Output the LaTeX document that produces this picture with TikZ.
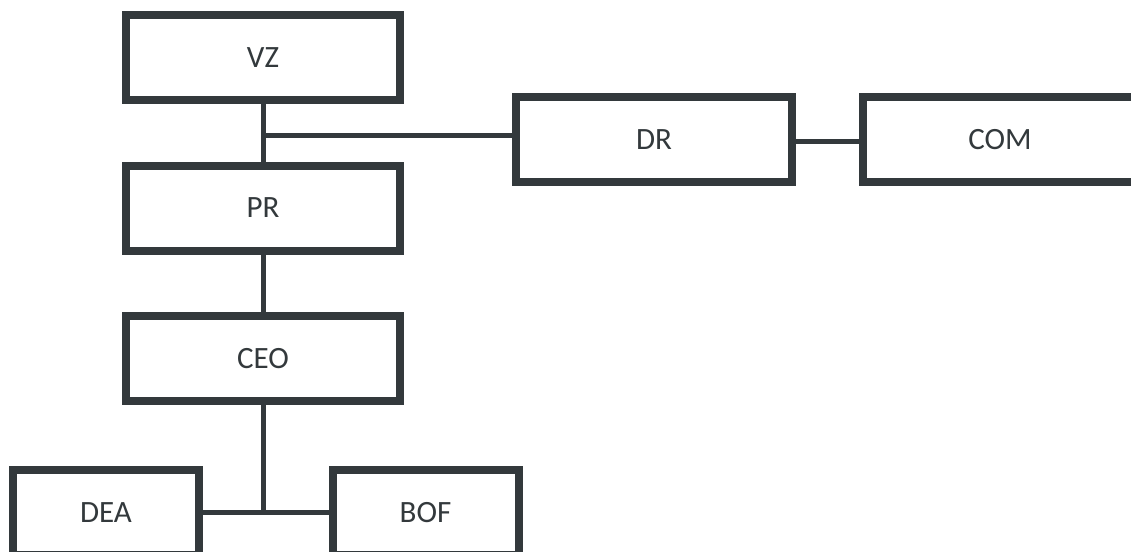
\documentclass[tikz,border=0pt]{standalone}
\usepackage{fontspec}
\setmainfont{Carlito}
\definecolor{ink}{HTML}{33393C}
\begin{document}
\begin{tikzpicture}[x=1pt,y=-1pt,
  orgbox/.style={draw=ink,line width=8pt,rectangle,fill=white,text=ink,
    minimum width=274pt,minimum height=85pt,inner sep=0pt,
    font=\fontsize{31}{36}\selectfont},
  smallbox/.style={orgbox,minimum width=186pt},
  link/.style={draw=ink,line width=5pt}]
\useasboundingbox (0,0) rectangle (1131,551);
\clip (0,0) rectangle (1131,551);
\fill[white] (0,0) rectangle (1131,551);
\node[orgbox] (vz) at (263,57.5) {VZ};
\node[orgbox] (pr) at (263,208) {PR};
\node[orgbox] (ceo) at (263,358.5) {CEO};
\node[orgbox,minimum width=276pt] (dr) at (654,139.5) {DR};
\node[orgbox] (com) at (1000,139.5) {COM};
\node[smallbox] (dea) at (106,512.5) {DEA};
\node[smallbox] (bof) at (425.5,512.5) {BOF};
\coordinate (j1) at (263,135);
\coordinate (j2) at (263,512);
\draw[link] (vz.south) -- (pr.north);
\draw[link] (j1) -- (dr.west |- j1);
\draw[link] (dr.east |- 0,141) -- (com.west |- 0,141);
\draw[link] (pr.south) -- (ceo.north);
\draw[link] (ceo.south) -- (j2);
\draw[link] (dea.east |- j2) -- (bof.west |- j2);
\end{tikzpicture}
\end{document}
